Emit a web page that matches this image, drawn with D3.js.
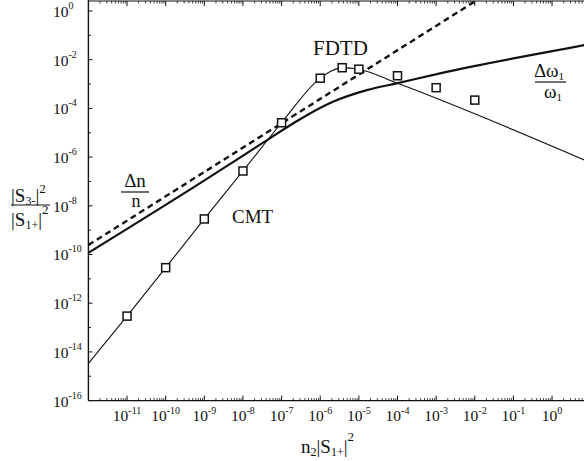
<!DOCTYPE html>
<html>
<head>
<meta charset="utf-8">
<script src="https://cdn.jsdelivr.net/npm/d3@7"></script>
<style>
  body { margin: 0; background: #fff; }
  svg { display: block; font-family: "Liberation Serif", "Times New Roman", serif; }
</style>
</head>
<body>
<svg id="chart" width="584" height="461"></svg>
<script>
// FDTD simulation points (squares)
const fdtdX = [1e-11, 1e-10, 1e-9, 1e-8, 1e-7, 1e-6, 3.7e-6, 1e-5, 1e-4, 1e-3, 1e-2];
const fdtdY = [2.95e-13, 2.88e-11, 2.88e-9, 2.69e-7, 2.57e-5, 1.74e-3, 4.68e-3, 4.07e-3, 2.19e-3, 7.08e-4, 2.19e-4];

// coupled-mode theory curve (thin line)
const cmtX = [1e-12, 1e-11, 1e-10, 1e-9, 1e-8, 1e-7, 1e-6, 2e-6, 3.7e-6, 1e-5, 1e-4, 10];
const cmtY = [3.4e-15, 2.95e-13, 2.88e-11, 2.88e-9, 2.69e-7, 2.57e-5, 1.74e-3, 3.5e-3, 4.7e-3, 4.07e-3, 1.07e-3, 5.9e-7];

// index-shift estimate Δn/n (dashed)
const dnX = [1e-12, 1e-2];
const dnY = [2.45e-10, 2.45];

// frequency-shift estimate Δω1/ω1 (thick solid)
const dwX = [1e-12, 7.8e-10, 3.4e-8, 3.0e-7, 2.2e-6, 1.6e-5, 9.5e-5, 1.26e-3, 6.8, 10];
const dwY = [1.17e-10, 8.5e-8, 4.0e-6, 3.6e-5, 1.9e-4, 5.6e-4, 1.07e-3, 2.75e-3, 4.0e-2, 4.5e-2];

// axis tick exponents
const xTickExp = [-11, -10, -9, -8, -7, -6, -5, -4, -3, -2, -1, 0];
const yTickExp = [0, -2, -4, -6, -8, -10, -12, -14, -16];

const svg = d3.select("#chart");
const plotL = 88.4, plotR = 590.7, plotT = 1, plotB = 400.6;

const x = d3.scaleLog().domain([1e-12, 1e1]).range([plotL, plotR]);
const y = d3.scaleLog().domain([1e-16, Math.pow(10, 0.41)]).range([plotB, plotT]);

svg.append("defs").append("clipPath").attr("id", "plotclip")
  .append("rect").attr("x", plotL).attr("y", plotT).attr("width", plotR - plotL).attr("height", plotB - plotT);

// frame: left axis, bottom axis, top border
const frame = svg.append("g").attr("stroke", "#111").attr("fill", "none");
frame.append("line").attr("x1", plotL).attr("x2", plotL).attr("y1", 0).attr("y2", plotB).attr("stroke-width", 1.4);
frame.append("line").attr("x1", plotL).attr("x2", 584).attr("y1", plotB).attr("y2", plotB).attr("stroke-width", 1.3);
frame.append("line").attr("x1", plotL).attr("x2", 584).attr("y1", plotT).attr("y2", plotT).attr("stroke-width", 1.2);

// x ticks: majors each decade, minors 2..9, on bottom (up) and top (down)
const xMajor = d3.range(-12, 2).map(e => Math.pow(10, e));
const xMinor = [];
d3.range(-12, 1).forEach(e => { for (let k = 2; k <= 9; k++) xMinor.push(k * Math.pow(10, e)); });
xMajor.forEach(v => {
  const px = x(v);
  if (px > 584 || px <= plotL + 1) return;
  frame.append("line").attr("x1", px).attr("x2", px).attr("y1", plotB).attr("y2", plotB - 5).attr("stroke-width", 1);
  frame.append("line").attr("x1", px).attr("x2", px).attr("y1", plotT).attr("y2", plotT + 5).attr("stroke-width", 1);
});
xMinor.forEach(v => {
  const px = x(v);
  if (px > 584) return;
  frame.append("line").attr("x1", px).attr("x2", px).attr("y1", plotB).attr("y2", plotB - 2.5).attr("stroke-width", 0.8);
  frame.append("line").attr("x1", px).attr("x2", px).attr("y1", plotT).attr("y2", plotT + 2.5).attr("stroke-width", 0.8);
});

// y ticks: every decade, longer at labelled ones
d3.range(-16, 1).forEach(e => {
  const py = y(Math.pow(10, e));
  const len = (e % 2 === 0) ? 4 : 2.5;
  frame.append("line").attr("x1", plotL).attr("x2", plotL + len).attr("y1", py).attr("y2", py).attr("stroke-width", 1);
});

// x tick labels
const xl = svg.append("g").attr("fill", "#111");
xTickExp.forEach(e => {
  const t = xl.append("text").attr("x", x(Math.pow(10, e))).attr("y", 421)
    .attr("text-anchor", "middle").attr("font-size", 15.5);
  t.append("tspan").text("10");
  t.append("tspan").attr("font-size", 10).attr("dy", -7).text(String(e));
});

// y tick labels
yTickExp.forEach(e => {
  const t = xl.append("text").attr("x", 53).attr("y", y(Math.pow(10, e)) + 6)
    .attr("font-size", 15.5);
  t.append("tspan").text("10");
  t.append("tspan").attr("font-size", 10).attr("dy", -8).text(String(e));
});

// curves
const plot = svg.append("g").attr("clip-path", "url(#plotclip)");
const line = d3.line().x(d => x(d[0])).y(d => y(d[1])).curve(d3.curveMonotoneX);

plot.append("path").datum(d3.zip(cmtX, cmtY)).attr("d", line)
  .attr("fill", "none").attr("stroke", "#111").attr("stroke-width", 1.1);
plot.append("path").datum(d3.zip(dwX, dwY)).attr("d", line)
  .attr("fill", "none").attr("stroke", "#111").attr("stroke-width", 2.2);
plot.append("path").datum(d3.zip(dnX, dnY)).attr("d", d3.line().x(d => x(d[0])).y(d => y(d[1])))
  .attr("fill", "none").attr("stroke", "#111").attr("stroke-width", 2.4).attr("stroke-dasharray", "6,4");

// FDTD squares
plot.selectAll("rect.pt").data(d3.zip(fdtdX, fdtdY)).enter().append("rect")
  .attr("class", "pt")
  .attr("x", d => x(d[0]) - 4).attr("y", d => y(d[1]) - 4)
  .attr("width", 8).attr("height", 8)
  .attr("fill", "#fff").attr("stroke", "#111").attr("stroke-width", 1.5);

// annotations
const ann = svg.append("g").attr("fill", "#111");
ann.append("text").attr("x", 313).attr("y", 55).attr("font-size", 21).text("FDTD");
ann.append("text").attr("x", 232).attr("y", 223).attr("font-size", 19).text("CMT");

// Δn / n
ann.append("text").attr("x", 135).attr("y", 187).attr("text-anchor", "middle").attr("font-size", 19).text("Δn");
ann.append("line").attr("x1", 121).attr("x2", 149).attr("y1", 192).attr("y2", 192).attr("stroke", "#111").attr("stroke-width", 1.2);
ann.append("text").attr("x", 136).attr("y", 207).attr("text-anchor", "middle").attr("font-size", 18).text("n");

// Δω1 / ω1
const dw1 = ann.append("text").attr("x", 549).attr("y", 77).attr("text-anchor", "middle").attr("font-size", 19);
dw1.append("tspan").text("Δω");
dw1.append("tspan").attr("font-size", 11).attr("dy", 3).text("1");
ann.append("line").attr("x1", 535).attr("x2", 566).attr("y1", 82).attr("y2", 82).attr("stroke", "#111").attr("stroke-width", 1.2);
const w1 = ann.append("text").attr("x", 553).attr("y", 98).attr("text-anchor", "middle").attr("font-size", 19);
w1.append("tspan").text("ω");
w1.append("tspan").attr("font-size", 11).attr("dy", 3).text("1");

// y-axis title |S3-|^2 / |S1+|^2
const num = ann.append("text").attr("x", 11).attr("y", 202).attr("font-size", 19);
num.append("tspan").text("|S");
num.append("tspan").attr("font-size", 12).attr("dy", 3).text("3-");
num.append("tspan").attr("dy", -3).text("|");
num.append("tspan").attr("font-size", 13).attr("dy", -9).text("2");
ann.append("line").attr("x1", 11).attr("x2", 50).attr("y1", 205).attr("y2", 205).attr("stroke", "#111").attr("stroke-width", 1.2);
const den = ann.append("text").attr("x", 11).attr("y", 226).attr("font-size", 19);
den.append("tspan").text("|S");
den.append("tspan").attr("font-size", 12).attr("dy", 3).text("1+");
den.append("tspan").attr("dy", -3).text("|");
den.append("tspan").attr("font-size", 13).attr("dy", -12).text("2");

// x-axis title n2|S1+|^2
const xt = ann.append("text").attr("x", 301).attr("y", 453).attr("font-size", 19);
xt.append("tspan").text("n");
xt.append("tspan").attr("font-size", 12).attr("dy", 3).text("2");
xt.append("tspan").attr("dy", -3).text("|S");
xt.append("tspan").attr("font-size", 12).attr("dy", 3).text("1+");
xt.append("tspan").attr("dy", -3).text("|");
xt.append("tspan").attr("font-size", 13).attr("dy", -12).text("2");
</script>
</body>
</html>
